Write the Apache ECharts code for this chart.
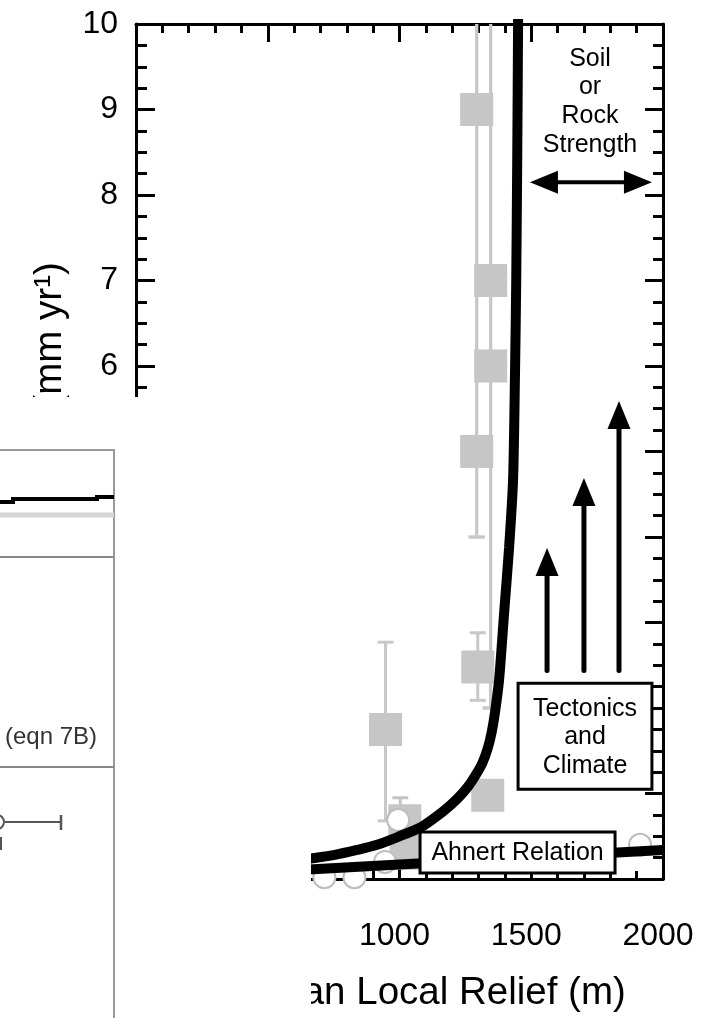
<!DOCTYPE html>
<html>
<head>
<meta charset="utf-8">
<script src="https://cdn.jsdelivr.net/npm/echarts@6/dist/echarts.min.js"></script>
<style>
  html, body { margin: 0; padding: 0; background: #fff; }
  #chart { width: 714px; height: 1018px; }
</style>
</head>
<body>
<div id="chart"></div>
<script>
// 坐标轴刻度
var reliefTicks = [0, 500, 1000, 1500, 2000];
var erosionTicks = [0, 1, 2, 3, 4, 5, 6, 7, 8, 9, 10];

// 灰色方块 [relief, erosion]
var squareData = [
    [1293, 9.0], [1346, 7.0], [1346, 6.0], [1293, 5.0], [1297, 2.48],
    [947, 1.75], [1335, 0.98], [1020, 0.68], [1025, 0.30]
];
// 方块误差棒 [relief, low, high]
var squareErrors = [
    [1293, 4.0, 12], [1346, 2.0, 12], [1346, 2.0, 11], [1293, 4.0, 11],
    [1297, 2.09, 2.88], [947, 0.68, 2.77]
];
// 空心圆
var circleData = [[715, 0.02], [829, 0.02], [945, 0.2], [995, 0.69], [1913, 0.40]];
var circleErrors = [[1003, 0.5, 0.95]];

// 临界坡度曲线
var thresholdCurve = [
    [600, 0.20], [664, 0.24], [750, 0.28], [839, 0.34], [915, 0.40], [1000, 0.50],
    [1078, 0.60], [1165, 0.79], [1220, 0.94], [1260, 1.08], [1290, 1.22], [1315, 1.36],
    [1335, 1.53], [1350, 1.72], [1362, 1.94], [1378, 2.33], [1397, 3.11], [1416, 3.88],
    [1431, 4.67], [1438, 5.84], [1443, 7.0], [1447, 8.5], [1450, 10.0], [1452, 11.0]
];
// Ahnert 线性关系
var ahnertLine = [[0, 0], [2000, 0.34]];

// 箭头 [x0, y0, x1, y1, 双向]
var arrowData = [
    [1560, 2.44, 1560, 3.87, 0],
    [1700, 2.44, 1700, 4.69, 0],
    [1833, 2.44, 1833, 5.59, 0],
    [1495, 8.15, 1958, 8.15, 1]
];
// 文字框 [x0, y0, x1, y1]
var boxNotes = [[1450, 1.05, 1958, 2.29], [1078, 0.07, 1818, 0.55]];
var boxTexts = ['Tectonics\nand\nClimate', 'Ahnert Relation'];
var freeNotes = [[1723, 9.09]];
var freeTexts = ['Soil\nor\nRock\nStrength'];

var FONT = '"Liberation Sans", Arial, sans-serif';
var myChart = echarts.init(document.getElementById('chart'));

function renderErr(color) {
    return function(params, api) {
        var lo = api.coord([api.value(0), api.value(1)]);
        var hi = api.coord([api.value(0), api.value(2)]);
        var c = 8;
        var st = { stroke: color, lineWidth: 3 };
        return {
            type: 'group',
            children: [
                { type: 'line', shape: { x1: lo[0], y1: lo[1], x2: hi[0], y2: hi[1] }, style: st },
                { type: 'line', shape: { x1: lo[0] - c, y1: lo[1], x2: lo[0] + c, y2: lo[1] }, style: st },
                { type: 'line', shape: { x1: hi[0] - c, y1: hi[1], x2: hi[0] + c, y2: hi[1] }, style: st }
            ]
        };
    };
}

function renderArrow(params, api) {
    var a = api.coord([api.value(0), api.value(1)]);
    var b = api.coord([api.value(2), api.value(3)]);
    var both = api.value(4) === 1;
    var dx = b[0] - a[0], dy = b[1] - a[1];
    var len = Math.sqrt(dx * dx + dy * dy);
    var ux = dx / len, uy = dy / len, nx = -uy, ny = ux;
    var L = 28, W = 11.5;
    function head(tip, sx, sy) {
        return {
            type: 'polygon',
            shape: { points: [
                [tip[0], tip[1]],
                [tip[0] - sx * L + nx * W, tip[1] - sy * L + ny * W],
                [tip[0] - sx * L - nx * W, tip[1] - sy * L - ny * W]
            ] },
            style: { fill: '#000' }
        };
    }
    var s = both ? [a[0] + ux * L * 0.9, a[1] + uy * L * 0.9] : a;
    var e = [b[0] - ux * L * 0.9, b[1] - uy * L * 0.9];
    var children = [
        { type: 'line', shape: { x1: s[0], y1: s[1], x2: e[0], y2: e[1] },
          style: { stroke: '#000', lineWidth: both ? 4 : 5, lineCap: both ? 'butt' : 'round' } },
        head(b, ux, uy)
    ];
    if (both) children.push(head(a, -ux, -uy));
    return { type: 'group', children: children };
}

function renderBox(params, api) {
    var p0 = api.coord([api.value(0), api.value(1)]);
    var p1 = api.coord([api.value(2), api.value(3)]);
    var x = Math.min(p0[0], p1[0]), y = Math.min(p0[1], p1[1]);
    var w = Math.abs(p1[0] - p0[0]), h = Math.abs(p1[1] - p0[1]);
    return {
        type: 'group',
        children: [
            { type: 'rect', shape: { x: x, y: y, width: w, height: h },
              style: { fill: '#fff', stroke: '#000', lineWidth: 3 } },
            { type: 'text', style: {
                text: boxTexts[params.dataIndex], x: x + w / 2, y: y + h / 2 + 1,
                align: 'center', verticalAlign: 'middle', fontSize: 25, fontFamily: FONT,
                lineHeight: 28.5, fill: '#000' } }
        ]
    };
}

function renderText(params, api) {
    var p = api.coord([api.value(0), api.value(1)]);
    return { type: 'text', style: {
        text: freeTexts[params.dataIndex], x: p[0], y: p[1],
        align: 'center', verticalAlign: 'middle', fontSize: 25, fontFamily: FONT,
        lineHeight: 28.7, fill: '#000' } };
}

var axisLine = { show: true, onZero: false, lineStyle: { color: '#000', width: 3 } };
function ticks(len) { return { show: true, inside: true, length: len, lineStyle: { color: '#000', width: 3 } }; }
function minor(len, n) { return { show: true, splitNumber: n, length: len, lineStyle: { color: '#000', width: 3 } }; }
function plain(v) { return String(v); }

var xBase = {
    type: 'value', min: reliefTicks[0], max: reliefTicks[reliefTicks.length - 1],
    interval: reliefTicks[1] - reliefTicks[0], splitLine: { show: false }, axisLine: axisLine
};
var yBase = {
    type: 'value', min: erosionTicks[0], max: erosionTicks[erosionTicks.length - 1],
    interval: erosionTicks[1] - erosionTicks[0], splitLine: { show: false }, axisLine: axisLine
};

var option = {
    animation: false,
    backgroundColor: '#fff',
    textStyle: { fontFamily: FONT },
    grid: { left: 136, right: 51, top: 24, bottom: 139, containLabel: false, outerBoundsMode: 'none' },
    xAxis: [
        Object.assign({}, xBase, {
            position: 'bottom',
            axisTick: ticks(14), minorTick: minor(8, 5),
            axisLabel: { color: '#000', fontSize: 32, margin: 41, padding: [0, 10, 0, 0],
                         showMaxLabel: true, formatter: plain },
            name: 'Mean Local Relief (m)', nameLocation: 'middle', nameGap: 95,
            nameTextStyle: { color: '#000', fontSize: 38.5, padding: [0, 0, 0, 76] }
        }),
        Object.assign({}, xBase, {
            position: 'top',
            axisTick: ticks(18), minorTick: minor(9, 5), axisLabel: { show: false }
        })
    ],
    yAxis: [
        Object.assign({}, yBase, {
            position: 'left',
            axisTick: ticks(19), minorTick: minor(11, 4),
            axisLabel: { color: '#000', fontSize: 32, margin: 18, showMaxLabel: true, formatter: plain },
            name: 'Erosion Rate (mm yr\u00b9)', nameLocation: 'middle', nameGap: 66, nameRotate: 90,
            nameTextStyle: { color: '#000', fontSize: 38.5 }
        }),
        Object.assign({}, yBase, {
            position: 'right',
            axisTick: ticks(18), minorTick: minor(10, 4), axisLabel: { show: false }
        })
    ],
    series: [
        { type: 'custom', name: 'square error', renderItem: renderErr('#c8c8c8'), data: squareErrors,
          encode: { x: 0, y: [1, 2] }, clip: true, z: 2, silent: true },
        { type: 'custom', name: 'circle error', renderItem: renderErr('#c4c4c4'), data: circleErrors,
          encode: { x: 0, y: [1, 2] }, clip: true, z: 2, silent: true },
        { type: 'scatter', name: 'squares', data: squareData, symbol: 'rect', symbolSize: 33,
          itemStyle: { color: '#c6c6c6', opacity: 1 }, z: 3, clip: false },
        { type: 'scatter', name: 'circles', data: circleData, symbol: 'circle', symbolSize: 22,
          itemStyle: { color: '#fff', borderColor: '#bdbdbd', borderWidth: 2, opacity: 1 }, z: 4, clip: false },
        { type: 'line', name: 'threshold', data: thresholdCurve, showSymbol: false, smooth: 0.25,
          lineStyle: { color: '#000', width: 10 }, z: 5, clip: true },
        { type: 'line', name: 'Ahnert', data: ahnertLine, showSymbol: false,
          lineStyle: { color: '#000', width: 10 }, z: 5, clip: true },
        { type: 'custom', name: 'arrows', renderItem: renderArrow, data: arrowData,
          encode: { x: [0, 2], y: [1, 3] }, z: 6, silent: true },
        { type: 'custom', name: 'boxes', renderItem: renderBox, data: boxNotes,
          encode: { x: [0, 2], y: [1, 3] }, z: 7, silent: true },
        { type: 'custom', name: 'notes', renderItem: renderText, data: freeNotes,
          encode: { x: 0, y: 1 }, z: 7, silent: true }
    ],
    // 左下角覆盖的另一幅图的碎片
    graphic: [
        { type: 'rect', z: 100, shape: { x: 0, y: 397, width: 311, height: 621 }, style: { fill: '#fff' } },
        { type: 'line', z: 101, shape: { x1: 0, y1: 450, x2: 114, y2: 450 }, style: { stroke: '#999', lineWidth: 2 } },
        { type: 'line', z: 101, shape: { x1: 114, y1: 449, x2: 114, y2: 1018 }, style: { stroke: '#999', lineWidth: 2 } },
        { type: 'line', z: 101, shape: { x1: 0, y1: 557, x2: 114, y2: 557 }, style: { stroke: '#888', lineWidth: 2 } },
        { type: 'line', z: 101, shape: { x1: 0, y1: 767, x2: 114, y2: 767 }, style: { stroke: '#888', lineWidth: 2 } },
        { type: 'line', z: 101, shape: { x1: 0, y1: 515, x2: 114, y2: 515 }, style: { stroke: '#d6d6d6', lineWidth: 5 } },
        { type: 'polyline', z: 102, shape: { points: [[0, 502], [13, 502], [13, 499], [97, 499], [97, 497], [114, 497]] },
          style: { stroke: '#000', lineWidth: 4, fill: null } },
        { type: 'text', z: 102, style: { text: '(eqn 7B)', x: 5, y: 737, align: 'left', verticalAlign: 'middle',
          fontSize: 24, fontFamily: FONT, fill: '#333' } },
        { type: 'line', z: 102, shape: { x1: 5, y1: 822, x2: 61, y2: 822 }, style: { stroke: '#555', lineWidth: 2 } },
        { type: 'line', z: 102, shape: { x1: 61, y1: 815, x2: 61, y2: 830 }, style: { stroke: '#555', lineWidth: 2.5 } },
        { type: 'circle', z: 102, shape: { cx: -3, cy: 822, r: 7 }, style: { stroke: '#555', lineWidth: 2, fill: '#fff' } },
        { type: 'line', z: 102, shape: { x1: 1, y1: 837, x2: 1, y2: 850 }, style: { stroke: '#555', lineWidth: 2 } }
    ]
};

myChart.setOption(option);
window.addEventListener('resize', function() {
    myChart.resize();
});
</script>
</body>
</html>
